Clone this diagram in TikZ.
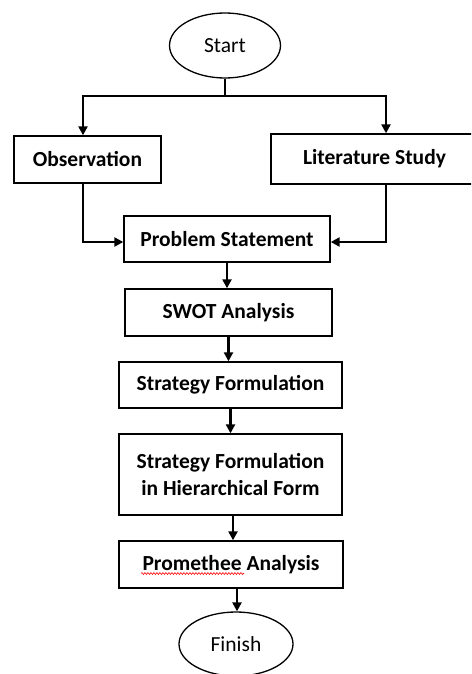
\documentclass[tikz,border=0pt]{standalone}
\usepackage{fontspec}
\setmainfont{Carlito}
\usetikzlibrary{arrows.meta,shapes.geometric,decorations.pathmorphing}
\begin{document}
\begin{tikzpicture}[x=1pt,y=-1pt,
  box/.style={draw,line width=1.4pt,inner sep=0pt,align=center,font=\fontsize{21.5}{27}\selectfont\bfseries},
  oval/.style={draw,ellipse,line width=1.3pt,inner sep=0pt,font=\fontsize{21.5}{27}\selectfont},
  arr/.style={line width=2.4pt,-{Triangle[length=9pt,width=9pt]}},
  ln/.style={line width=2.4pt}]
\useasboundingbox (0,0) rectangle (471,674);
\clip (0,0) rectangle (471,674);
\node[oval,minimum width=111pt,minimum height=65pt] (start) at (225,45.5) {Start};
\node[box,minimum width=147pt,minimum height=47pt] (obs) at (87.5,159.5) {Observation};
\node[box,minimum width=207pt,minimum height=50pt] (lit) at (374.5,159) {Literature Study};
\node[box,minimum width=206pt,minimum height=46pt] (ps) at (227,239) {Problem Statement};
\node[box,minimum width=207pt,minimum height=47pt] (swot) at (228.5,312.5) {SWOT Analysis};
\node[box,minimum width=223pt,minimum height=46pt] (sf) at (230.5,385) {Strategy Formulation};
\node[box,minimum width=223pt,minimum height=81pt] (sfh) at (230.5,474.5) {Strategy Formulation\\in Hierarchical Form};
\node[box,minimum width=224pt,minimum height=47pt] (pa) at (231,564.5) {Promethee Analysis};
\node[oval,minimum width=114pt,minimum height=64pt] (fin) at (236,644) {Finish};
\coordinate (jl) at (83,96);
\coordinate (jr) at (386,96);
\coordinate (split) at (start.south |- jl);
\draw[ln] (start.south) -- (split);
\draw[arr] (split) -- (jl) -- (jl |- obs.north);
\draw[arr] (split) -- (jr) -- (jr |- lit.north);
\coordinate (ol) at (83,242);
\coordinate (lr) at (386,242);
\draw[arr] (ol |- obs.south) -- (ol) -- (ol -| ps.west);
\draw[arr] (lr |- lit.south) -- (lr) -- (lr -| ps.east);
\draw[arr] (ps.south) -- (ps.south |- swot.north);
\draw[arr] (swot.south) -- (swot.south |- sf.north);
\draw[arr] (sf.south) -- (sf.south |- sfh.north);
\draw[arr] (233,515) coordinate (a1) -- (a1 |- pa.north);
\draw[arr] (237,588) coordinate (a2) -- (a2 |- fin.north);
\draw[red,line width=0.6pt,decorate,decoration={snake,amplitude=0.9pt,segment length=3pt}] ([shift={(-90,9)}]pa.center) -- ([shift={(13,9)}]pa.center);
\end{tikzpicture}
\end{document}
